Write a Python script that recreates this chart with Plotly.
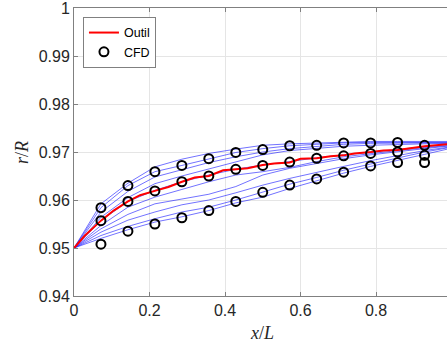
import plotly.graph_objects as go

# ---------------- data ----------------
x_grid = [0, 1/14, 2/14, 3/14, 4/14, 5/14, 6/14, 7/14, 8/14, 9/14, 10/14, 11/14, 12/14, 13/14, 1.0]

blue_1 = [0.950, 0.9592, 0.9635, 0.9669, 0.9685, 0.9697, 0.9706, 0.9714, 0.9717, 0.9719, 0.9721, 0.9722, 0.9722, 0.9722, 0.9722]
blue_2 = [0.950, 0.9584, 0.9630, 0.9659, 0.9672, 0.9686, 0.9699, 0.9707, 0.9713, 0.9716, 0.9719, 0.9720, 0.9720, 0.9720, 0.9720]
blue_3 = [0.950, 0.9575, 0.9618, 0.9648, 0.9663, 0.9678, 0.9690, 0.9700, 0.9707, 0.9712, 0.9716, 0.9718, 0.9719, 0.9719, 0.9719]
blue_4 = [0.950, 0.9564, 0.9605, 0.9634, 0.9650, 0.9665, 0.9680, 0.9694, 0.9703, 0.9708, 0.9712, 0.9714, 0.9716, 0.9717, 0.9718]
blue_5 = [0.950, 0.9557, 0.9597, 0.9620, 0.9638, 0.9652, 0.9664, 0.9673, 0.9680, 0.9688, 0.9694, 0.9700, 0.9705, 0.9711, 0.9716]
blue_6 = [0.950, 0.9547, 0.9585, 0.9606, 0.9622, 0.9638, 0.9652, 0.9659, 0.9668, 0.9680, 0.9690, 0.9697, 0.9703, 0.9709, 0.9714]
blue_7 = [0.950, 0.9540, 0.9570, 0.9592, 0.9602, 0.9612, 0.9628, 0.9652, 0.9666, 0.9676, 0.9686, 0.9694, 0.9701, 0.9707, 0.9713]
blue_8 = [0.950, 0.9533, 0.9558, 0.9575, 0.9590, 0.9600, 0.9615, 0.9631, 0.9645, 0.9658, 0.9670, 0.9682, 0.9693, 0.9703, 0.9711]
blue_9 = [0.950, 0.9526, 0.9545, 0.9561, 0.9575, 0.9585, 0.9600, 0.9617, 0.9633, 0.9647, 0.9662, 0.9675, 0.9688, 0.9700, 0.9710]
blue_10 = [0.950, 0.9520, 0.9538, 0.9554, 0.9565, 0.9578, 0.9594, 0.9606, 0.9624, 0.9640, 0.9656, 0.9670, 0.9682, 0.9695, 0.9708]
blue_lines = [blue_1, blue_2, blue_3, blue_4, blue_5, blue_6, blue_7, blue_8, blue_9, blue_10]

outil_x = [0, 0.029, 0.0714, 0.105, 0.143, 0.175, 0.214, 0.25, 0.286, 0.32, 0.357,
           0.395, 0.429, 0.46, 0.5, 0.53, 0.571, 0.60, 0.643, 0.68, 0.714, 0.743,
           0.786, 0.82, 0.857, 0.89, 0.929, 1.0]
outil_y = [0.9500, 0.9526, 0.9557, 0.9578, 0.9597, 0.9610, 0.9619, 0.9627, 0.9638, 0.9647, 0.9650,
           0.9662, 0.9664, 0.9666, 0.9673, 0.9676, 0.9678, 0.9686, 0.9687, 0.9691, 0.9693, 0.9697,
           0.9700, 0.9703, 0.9704, 0.9708, 0.9712, 0.9717]

cfd_x = [1/14, 2/14, 3/14, 4/14, 5/14, 6/14, 7/14, 8/14, 9/14, 10/14, 11/14, 12/14, 13/14]
cfd_high = [0.9584, 0.9630, 0.9659, 0.9672, 0.9686, 0.9699, 0.9705, 0.9713, 0.9714, 0.9719, 0.9719, 0.9720, 0.9714]
cfd_mid = [0.9557, 0.9597, 0.9619, 0.9638, 0.9650, 0.9664, 0.9672, 0.9679, 0.9687, 0.9692, 0.9697, 0.9700, 0.9693]
cfd_low = [0.9508, 0.9535, 0.9550, 0.9563, 0.9578, 0.9597, 0.9616, 0.9631, 0.9644, 0.9658, 0.9671, 0.9678, 0.9678]

x_ticks = [0, 0.2, 0.4, 0.6, 0.8]
x_tick_labels = ["0", "0.2", "0.4", "0.6", "0.8"]
y_ticks = [0.94, 0.95, 0.96, 0.97, 0.98, 0.99, 1.0]
y_tick_labels = ["0.94", "0.95", "0.96", "0.97", "0.98", "0.99", "1"]

# ---------------- figure ----------------
fig = go.Figure()

for yl in blue_lines:
    fig.add_trace(go.Scatter(x=x_grid, y=yl, mode="lines",
                             line=dict(color="rgba(0,0,255,0.62)", width=0.9),
                             showlegend=False, hoverinfo="skip"))

fig.add_trace(go.Scatter(x=outil_x, y=outil_y, mode="lines", name="Outil",
                         line=dict(color="#ff0000", width=2)))

cx = cfd_x * 3
cy = cfd_high + cfd_mid + cfd_low
fig.add_trace(go.Scatter(x=cx, y=cy, mode="markers", name="CFD",
                         marker=dict(symbol="circle-open", size=9,
                                     line=dict(color="black", width=2), color="black")))

axis_common = dict(showline=True, linecolor="#808080", linewidth=1,
                   showgrid=True, gridcolor="#e5e5e5", gridwidth=1,
                   ticks="inside", ticklen=4, tickcolor="#808080",
                   tickfont=dict(family="Liberation Sans, Arial", size=16, color="#262626"),
                   zeroline=False, automargin=False, ticklabeloverflow="allow")

fig.update_xaxes(range=[0, 373/377.5], tickvals=x_ticks, ticktext=x_tick_labels,
                 mirror="ticks", **axis_common)
fig.update_yaxes(range=[0.94, 1.0], tickvals=y_ticks, ticktext=y_tick_labels,
                 mirror=False, **axis_common)

fig.update_layout(
    width=447, height=346,
    margin=dict(l=74, r=0, t=8, b=50, autoexpand=False),
    plot_bgcolor="white", paper_bgcolor="white",
    legend=dict(x=0.024, y=0.969, xanchor="left", yanchor="top",
                bgcolor="white", bordercolor="#808080", borderwidth=1,
                font=dict(family="Liberation Sans, Arial", size=12.5, color="black"),
                itemwidth=30, tracegroupgap=0),
    annotations=[
        dict(text="<i>x</i>/<i>L</i>", xref="paper", yref="paper",
             x=0.504, y=-0.128, xanchor="center", yanchor="middle", showarrow=False,
             font=dict(family="Liberation Serif, DejaVu Serif", size=18, color="#262626")),
        dict(text="<i>r</i>/<i>R</i>", xref="paper", yref="paper",
             x=-0.139, y=0.497, xanchor="center", yanchor="middle", showarrow=False,
             textangle=-90,
             font=dict(family="Liberation Serif, DejaVu Serif", size=18, color="#262626")),
    ],
)

fig.write_html("out.html", config={"displayModeBar": False},
               post_script="document.body.style.margin='0';document.body.style.padding='0';")
